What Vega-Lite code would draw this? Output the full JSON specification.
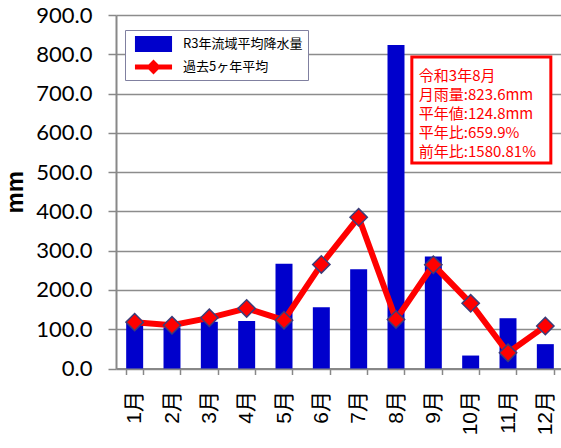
{
  "$schema": "https://vega.github.io/schema/vega-lite/v6.json",
  "width": 448,
  "height": 353.5,
  "autosize": {"type": "none"},
  "padding": {"left": 116, "top": 15, "right": 0, "bottom": 79.5},
  "background": "white",
  "title": {"text": "令和3年 月別流域平均降水量", "fontSize": 26, "font": "Noto Sans CJK JP", "fontWeight": "bold", "baseline": "alphabetic", "offset": 11, "dx": -22, "color": "black"},
  "datasets": {
    "rain": [
      {"month": "1月", "series": "R3年流域平均降水量", "value": 117},
      {"month": "2月", "series": "R3年流域平均降水量", "value": 105},
      {"month": "3月", "series": "R3年流域平均降水量", "value": 119},
      {"month": "4月", "series": "R3年流域平均降水量", "value": 121},
      {"month": "5月", "series": "R3年流域平均降水量", "value": 267},
      {"month": "6月", "series": "R3年流域平均降水量", "value": 156},
      {"month": "7月", "series": "R3年流域平均降水量", "value": 253},
      {"month": "8月", "series": "R3年流域平均降水量", "value": 823.6},
      {"month": "9月", "series": "R3年流域平均降水量", "value": 285},
      {"month": "10月", "series": "R3年流域平均降水量", "value": 33},
      {"month": "11月", "series": "R3年流域平均降水量", "value": 128},
      {"month": "12月", "series": "R3年流域平均降水量", "value": 62},
      {"month": "1月", "series": "過去5ヶ年平均", "value": 118},
      {"month": "2月", "series": "過去5ヶ年平均", "value": 110},
      {"month": "3月", "series": "過去5ヶ年平均", "value": 129},
      {"month": "4月", "series": "過去5ヶ年平均", "value": 153},
      {"month": "5月", "series": "過去5ヶ年平均", "value": 123},
      {"month": "6月", "series": "過去5ヶ年平均", "value": 265},
      {"month": "7月", "series": "過去5ヶ年平均", "value": 385},
      {"month": "8月", "series": "過去5ヶ年平均", "value": 124.8},
      {"month": "9月", "series": "過去5ヶ年平均", "value": 264},
      {"month": "10月", "series": "過去5ヶ年平均", "value": 166},
      {"month": "11月", "series": "過去5ヶ年平均", "value": 40},
      {"month": "12月", "series": "過去5ヶ年平均", "value": 108}
    ]
  },
  "layer": [
    {
      "data": {"name": "rain"},
      "transform": [{"filter": "datum.series === 'R3年流域平均降水量'"}],
      "mark": {"type": "bar", "fill": "#0000CC"},
      "encoding": {
        "x": {
          "field": "month", "type": "nominal",
          "scale": {"domain": ["1月","2月","3月","4月","5月","6月","7月","8月","9月","10月","11月","12月"], "paddingInner": 0.545, "paddingOuter": 0.2725},
          "axis": {"title": null, "labelAngle": -90, "labelFont": "Liberation Sans, Noto Sans CJK JP", "labelFontSize": 21, "labelColor": "black", "labelPadding": 16, "tickSize": 6, "tickColor": "#888888", "tickWidth": 1.5, "tickBand": "extent", "domainColor": "#888888", "domainWidth": 2, "grid": false}
        },
        "y": {
          "field": "value", "type": "quantitative",
          "scale": {"domain": [0, 900], "nice": false},
          "axis": {"title": "mm", "titleFont": "Liberation Sans", "titleFontSize": 24, "titleFontWeight": "bold", "titleColor": "black", "titlePadding": 8, "values": [0,100,200,300,400,500,600,700,800,900], "format": ".1f", "labelFont": "Lato", "labelFontSize": 22, "labelColor": "black", "labelPadding": 16, "tickSize": 8, "tickColor": "#888888", "tickWidth": 1.5, "domainColor": "#888888", "domainWidth": 2, "grid": true, "gridColor": "#8c8c8c", "gridWidth": 1.5}
        },
        "color": {
          "field": "series", "type": "nominal",
          "scale": {"domain": ["R3年流域平均降水量", "過去5ヶ年平均"], "range": ["#0000CC", "#FF0000"]},
          "legend": {
            "orient": "none", "legendX": 9, "legendY": 15, "title": null,
            "strokeColor": "#8080a0", "fillColor": "white", "padding": 5,
            "labelFont": "Noto Sans CJK JP", "labelFontSize": 13, "labelColor": "black",
            "symbolSize": 324, "rowPadding": 5, "symbolOffset": 14.5, "labelOffset": 20.5, "labelLimit": 200,
            "encode": {
              "symbols": {
                "update": {
                  "shape": {"signal": "datum.value === '過去5ヶ年平均' ? 'M-2.06,-0.28H-0.55L0,-0.83L0.55,-0.28H2.06V0.28H0.55L0,0.83L-0.55,0.28H-2.06Z' : 'M-2.06,-0.89H2.06V0.89H-2.06Z'"},
                  "fill": {"signal": "datum.value === '過去5ヶ年平均' ? '#FF0000' : '#0000CC'"},
                  "stroke": {"value": "transparent"},
                  "strokeWidth": {"value": 0},
                  "opacity": {"value": 1},
                  "fillOpacity": {"value": 1}
                }
              }
            }
          }
        }
      }
    },
    {
      "data": {"name": "rain"},
      "transform": [{"filter": "datum.series === '過去5ヶ年平均'"}],
      "mark": {"type": "line", "strokeWidth": 6},
      "encoding": {
        "x": {
          "field": "month", "type": "nominal",
          "axis": {"title": null, "labelAngle": -90, "labelFont": "Liberation Sans, Noto Sans CJK JP", "labelFontSize": 21, "labelColor": "black", "labelPadding": 16, "tickSize": 6, "tickColor": "#888888", "tickWidth": 1.5, "tickBand": "extent", "domainColor": "#888888", "domainWidth": 2, "grid": false}
        },
        "y": {
          "field": "value", "type": "quantitative",
          "axis": {"title": "mm", "titleFont": "Liberation Sans", "titleFontSize": 24, "titleFontWeight": "bold", "titleColor": "black", "titlePadding": 8, "values": [0,100,200,300,400,500,600,700,800,900], "format": ".1f", "labelFont": "Lato", "labelFontSize": 22, "labelColor": "black", "labelPadding": 16, "tickSize": 8, "tickColor": "#888888", "tickWidth": 1.5, "domainColor": "#888888", "domainWidth": 2, "grid": true, "gridColor": "#8c8c8c", "gridWidth": 1.5}
        },
        "color": {"field": "series", "type": "nominal"}
      }
    },
    {
      "data": {"name": "rain"},
      "transform": [{"filter": "datum.series === '過去5ヶ年平均'"}],
      "mark": {"type": "point", "shape": "diamond", "filled": true, "size": 300, "fill": "#FF0000", "stroke": "#3c3c78", "strokeWidth": 1.5, "opacity": 1},
      "encoding": {
        "x": {
          "field": "month", "type": "nominal",
          "axis": {"title": null, "labelAngle": -90, "labelFont": "Liberation Sans, Noto Sans CJK JP", "labelFontSize": 21, "labelColor": "black", "labelPadding": 16, "tickSize": 6, "tickColor": "#888888", "tickWidth": 1.5, "tickBand": "extent", "domainColor": "#888888", "domainWidth": 2, "grid": false}
        },
        "y": {
          "field": "value", "type": "quantitative",
          "axis": {"title": "mm", "titleFont": "Liberation Sans", "titleFontSize": 24, "titleFontWeight": "bold", "titleColor": "black", "titlePadding": 8, "values": [0,100,200,300,400,500,600,700,800,900], "format": ".1f", "labelFont": "Lato", "labelFontSize": 22, "labelColor": "black", "labelPadding": 16, "tickSize": 8, "tickColor": "#888888", "tickWidth": 1.5, "domainColor": "#888888", "domainWidth": 2, "grid": true, "gridColor": "#8c8c8c", "gridWidth": 1.5}
        }
      }
    },
    {
      "data": {"values": [{"month": "9月", "to": "12月"}]},
      "mark": {"type": "rect", "fill": "white", "stroke": "#FF0000", "strokeWidth": 3, "xOffset": -13, "x2Offset": 5.5},
      "encoding": {
        "x": {
          "field": "month", "type": "nominal", "bandPosition": 0,
          "axis": {"title": null, "labelAngle": -90, "labelFont": "Liberation Sans, Noto Sans CJK JP", "labelFontSize": 21, "labelColor": "black", "labelPadding": 16, "tickSize": 6, "tickColor": "#888888", "tickWidth": 1.5, "tickBand": "extent", "domainColor": "#888888", "domainWidth": 2, "grid": false}
        },
        "x2": {"field": "to"},
        "y": {
          "datum": 793, "type": "quantitative",
          "axis": {"title": "mm", "titleFont": "Liberation Sans", "titleFontSize": 24, "titleFontWeight": "bold", "titleColor": "black", "titlePadding": 8, "values": [0,100,200,300,400,500,600,700,800,900], "format": ".1f", "labelFont": "Lato", "labelFontSize": 22, "labelColor": "black", "labelPadding": 16, "tickSize": 8, "tickColor": "#888888", "tickWidth": 1.5, "domainColor": "#888888", "domainWidth": 2, "grid": true, "gridColor": "#8c8c8c", "gridWidth": 1.5}
        },
        "y2": {"datum": 523}
      }
    },
    {
      "data": {"values": [{"month": "9月", "lines": ["令和3年8月", "月雨量:823.6mm", "平年値:124.8mm", "平年比:659.9%", "前年比:1580.81%"]}]},
      "mark": {"type": "text", "align": "left", "baseline": "middle", "dx": -6, "font": "Noto Sans CJK JP", "fontSize": 15, "lineHeight": 19, "fill": "#FF0000"},
      "encoding": {
        "x": {
          "field": "month", "type": "nominal", "bandPosition": 0,
          "axis": {"title": null, "labelAngle": -90, "labelFont": "Liberation Sans, Noto Sans CJK JP", "labelFontSize": 21, "labelColor": "black", "labelPadding": 16, "tickSize": 6, "tickColor": "#888888", "tickWidth": 1.5, "tickBand": "extent", "domainColor": "#888888", "domainWidth": 2, "grid": false}
        },
        "y": {
          "datum": 745, "type": "quantitative",
          "axis": {"title": "mm", "titleFont": "Liberation Sans", "titleFontSize": 24, "titleFontWeight": "bold", "titleColor": "black", "titlePadding": 8, "values": [0,100,200,300,400,500,600,700,800,900], "format": ".1f", "labelFont": "Lato", "labelFontSize": 22, "labelColor": "black", "labelPadding": 16, "tickSize": 8, "tickColor": "#888888", "tickWidth": 1.5, "domainColor": "#888888", "domainWidth": 2, "grid": true, "gridColor": "#8c8c8c", "gridWidth": 1.5}
        },
        "text": {"field": "lines"}
      }
    }
  ],
  "config": {"view": {"stroke": null}}
}
